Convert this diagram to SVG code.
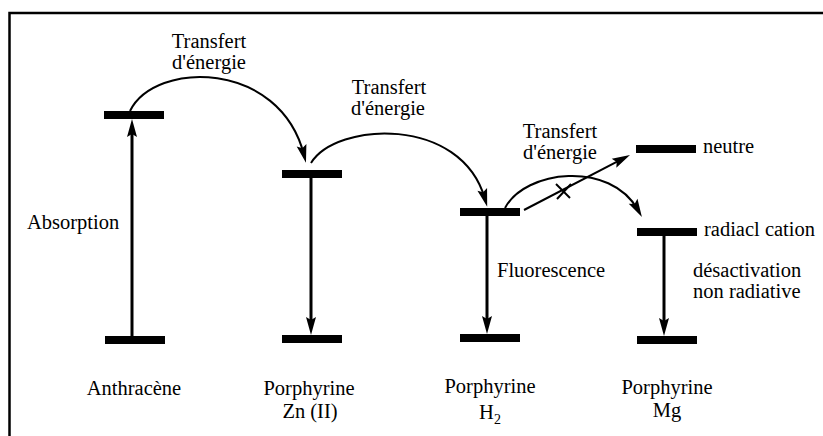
<svg xmlns="http://www.w3.org/2000/svg" width="823" height="436" viewBox="0 0 823 436">
  <style>
    text { font-family: "Liberation Serif", "Times New Roman", serif; font-size: 20.5px; fill: #000; }
    .mid { text-anchor: middle; }
    .bar { fill: #000; }
    .shaft { fill: none; stroke: #000; stroke-width: 3; }
    .curve { fill: none; stroke: #000; stroke-width: 2; }
    .frame { fill: none; stroke: #000; stroke-width: 2.5; }
  </style>
  <defs>
    <marker id="head" viewBox="-11 -6 20 12" refX="0" refY="0" markerWidth="20" markerHeight="12" markerUnits="userSpaceOnUse" orient="auto">
      <path d="M8,0 L-10,-5 L-7,0 L-10,5 Z" fill="#000"/>
    </marker>
  </defs>

  <rect width="823" height="436" fill="#fff"/>
  <path class="frame" d="M9.5,436 V13 H823"/>

  <!-- energy levels -->
  <g id="anthracene">
    <rect class="bar" x="104" y="111" width="60" height="8"/>
    <rect class="bar" x="105" y="336" width="60" height="8"/>
    <text class="mid" x="134" y="395">Anthracène</text>
  </g>
  <g id="porphyrine-zn">
    <rect class="bar" x="282" y="170" width="60" height="8"/>
    <rect class="bar" x="282" y="335" width="60" height="8"/>
    <text class="mid" x="309" y="395">Porphyrine</text>
    <text class="mid" x="310" y="418">Zn (II)</text>
  </g>
  <g id="porphyrine-h2">
    <rect class="bar" x="460" y="208" width="60" height="8"/>
    <rect class="bar" x="460" y="334" width="60" height="8"/>
    <text class="mid" x="490" y="393">Porphyrine</text>
    <text class="mid" x="490" y="419">H<tspan font-size="14" dy="5">2</tspan></text>
  </g>
  <g id="porphyrine-mg">
    <rect class="bar" x="636" y="145" width="60" height="8"/>
    <rect class="bar" x="637" y="228" width="60" height="8"/>
    <rect class="bar" x="637" y="336" width="60" height="8"/>
    <text x="703" y="153">neutre</text>
    <text x="704" y="236">radiacl cation</text>
    <text class="mid" x="667" y="394">Porphyrine</text>
    <text class="mid" x="667" y="417">Mg</text>
  </g>

  <!-- transitions -->
  <g id="connectors">
    <line class="shaft" x1="132" y1="336" x2="132" y2="127" marker-end="url(#head)"/>
    <line class="shaft" x1="311" y1="178" x2="311" y2="327" marker-end="url(#head)"/>
    <line class="shaft" x1="487" y1="216" x2="487" y2="326" marker-end="url(#head)"/>
    <line class="shaft" x1="664" y1="236" x2="664" y2="328" marker-end="url(#head)"/>

    <path class="curve" d="M130,111 C155,60 280,60 304,155" marker-end="url(#head)"/>
    <path class="curve" d="M311,163 C336,122 461,115 485,199" marker-end="url(#head)"/>
    <path class="curve" d="M505,208 C525,170 610,160 638,210" marker-end="url(#head)"/>
    <line class="curve" x1="524" y1="210" x2="622.9" y2="158.7" marker-end="url(#head)"/>

    <!-- blocked transfer -->
    <line class="curve" x1="556" y1="184" x2="570" y2="198" stroke-width="1.6"/>
    <line class="curve" x1="557" y1="199" x2="571" y2="184" stroke-width="1.6"/>
  </g>

  <!-- labels -->
  <g id="labels">
    <text class="mid" x="209" y="48">Transfert</text>
    <text class="mid" x="209" y="69">d'énergie</text>
    <text class="mid" x="389" y="94">Transfert</text>
    <text class="mid" x="388" y="115">d'énergie</text>
    <text class="mid" x="560" y="138">Transfert</text>
    <text class="mid" x="560" y="159">d'énergie</text>
    <text x="27" y="229">Absorption</text>
    <text x="497" y="277">Fluorescence</text>
    <text x="693" y="277">désactivation</text>
    <text x="693" y="298">non radiative</text>
  </g>
</svg>
